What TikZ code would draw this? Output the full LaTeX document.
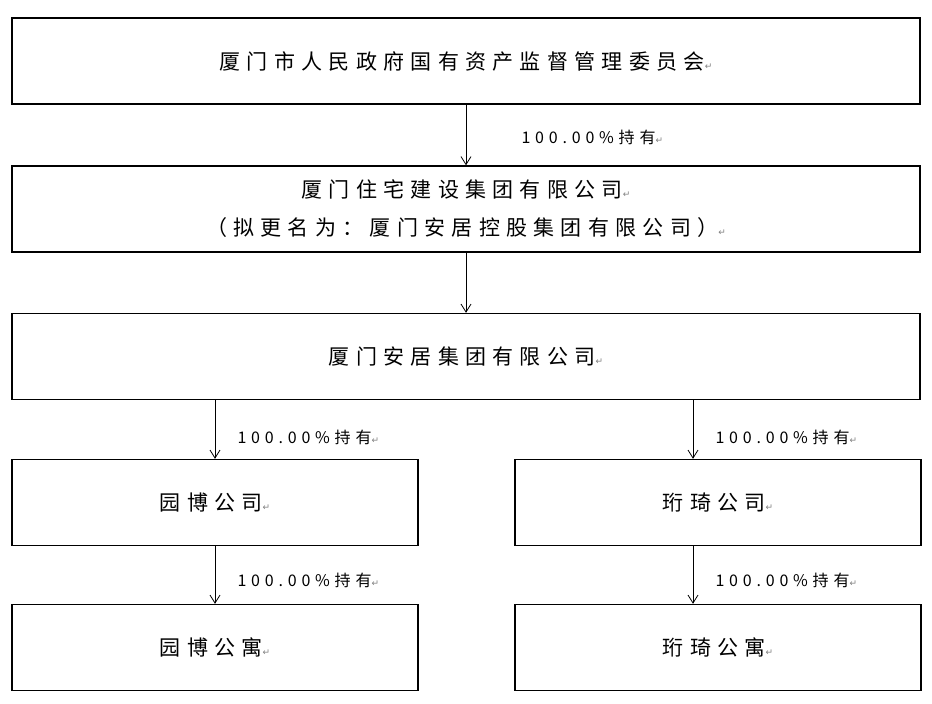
\documentclass[tikz,border=0pt]{standalone}
\usepackage{fontspec}
\setmainfont{Liberation Serif}
\newfontfamily\cjk[LetterSpace=30]{Noto Sans CJK SC}
\newfontfamily\pmarkfont{DejaVu Sans}
\usetikzlibrary{positioning,arrows.meta}
\newcommand{\pmark}{{\pmarkfont\fontsize{9}{9}\selectfont\color{gray}↵}}
\begin{document}
\begin{tikzpicture}[x=1pt,y=-1pt]
  % Define styles
  \tikzset{
    orgbox/.style={draw, line width=1.4pt, minimum height=86pt, inner sep=0pt, font=\cjk\fontsize{21}{38}\selectfont, align=center},
    wide/.style={orgbox, minimum width=908pt},
    half/.style={orgbox, minimum width=406pt},
    hold/.style={-{Straight Barb[length=8pt,width=10pt]}, line width=0.8pt},
    share/.style={font=\cjk\fontsize{16}{16}\selectfont, anchor=west}
  }
  \useasboundingbox (0,0) rectangle (932,704);

  % Top level boxes
  \node[wide] (sasac) at (466,61) {厦门市人民政府国有资产监督管理委员会\pmark};
  \node[wide] (housing) at (466,209) {厦门住宅建设集团有限公司\pmark\\（拟更名为：厦门安居控股集团有限公司）\pmark};
  \node[wide] (anju) at (466,356.5) {厦门安居集团有限公司\pmark};

  % Subsidiaries
  \node[half] (yuanbo) at (215,502.5) {园博公司\pmark};
  \node[half] (hangqi) at (718,502.5) {珩琦公司\pmark};
  \node[half] (yuanboapt) at (215,647.5) {园博公寓\pmark};
  \node[half] (hangqiapt) at (718,647.5) {珩琦公寓\pmark};

  % Holding arrows
  \draw[hold] (sasac) -- (housing);
  \draw[hold] (housing) -- (anju);
  \draw[hold] (anju.south -| yuanbo) -- (yuanbo);
  \draw[hold] (anju.south -| hangqi.north) ++(-25,0) coordinate (r) -- (r |- hangqi.north);
  \draw[hold] (yuanbo) -- (yuanboapt);
  \draw[hold] (hangqi.south) ++(-25,0) coordinate (r2) -- (r2 |- hangqiapt.north);

  % Labels
  \node[share] (l1) at (518,137) {100.00\%持有\pmark};
  \node[share] (l2) at (234,437) {100.00\%持有\pmark};
  \node[share] (l3) at (712,437) {100.00\%持有\pmark};
  \node[share] (l4) at (234,580) {100.00\%持有\pmark};
  \node[share] (l5) at (712,580) {100.00\%持有\pmark};
\end{tikzpicture}
\end{document}
